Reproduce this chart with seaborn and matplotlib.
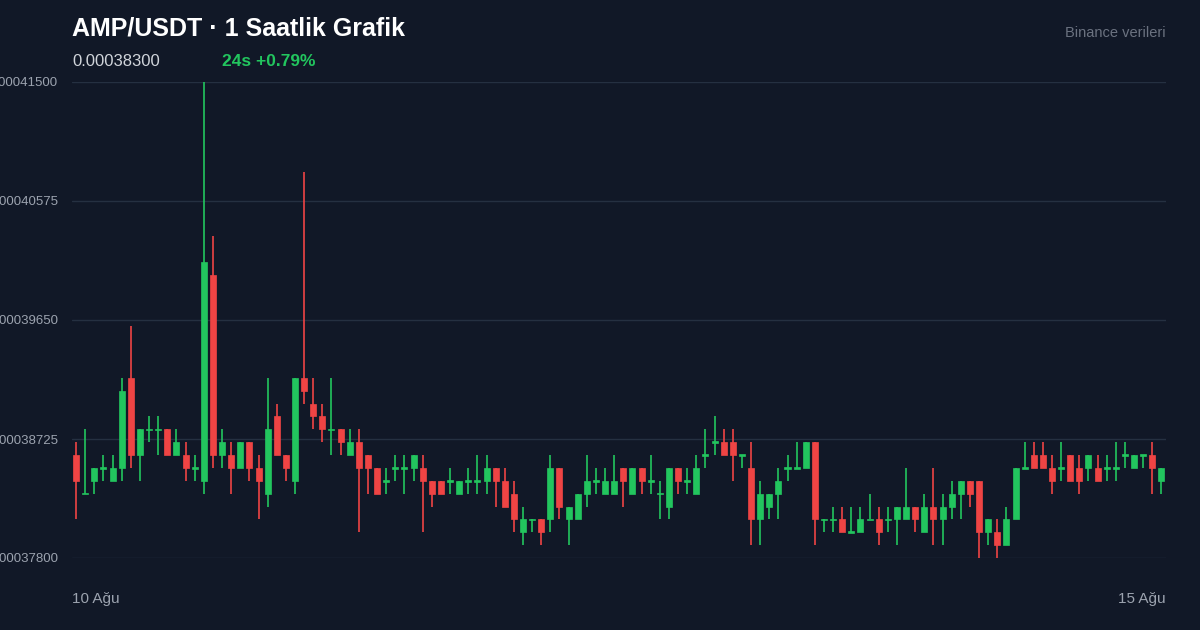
import numpy as np
import matplotlib
matplotlib.use("Agg")
import matplotlib.pyplot as plt
import seaborn as sns

# prices in units of 1e-6 USDT
opens = [386,383,384,385,384,385,392,386,388,388,388,386,386,385,384,400,386,386,385,387,385,383,389,386,384,392,390,389,388,388,
         386,387,386,385,384,385,385,385,385,384,384,384,383,384,384,384,385,384,383,380,381,381,381,385,381,381,383,384,383,383,
         385,383,385,384,383,382,385,384,383,386,387,387,387,386,385,381,382,383,385,385,385,387,381,381,381,380,380,381,381,381,
         381,381,382,380,382,381,382,383,384,384,380,380,379,381,385,386,386,385,385,386,385,385,385,385,385,386,385,386,386,384]
closes = [384,383,385,385,385,391,386,388,388,388,386,387,385,385,401,386,387,385,387,385,384,388,386,385,392,391,389,388,388,387,
          387,385,385,383,384,385,385,386,384,383,383,384,384,384,384,385,384,382,381,381,381,380,385,382,382,383,384,384,384,384,
          384,385,384,384,383,385,384,384,385,386,387,386,386,386,381,383,383,384,385,385,387,381,381,381,380,380,381,381,380,381,
          382,382,381,382,381,382,383,384,383,380,381,379,381,385,385,385,385,384,385,384,384,386,384,385,385,386,386,386,385,385]
highs = [387,388,385,386,386,392,396,388,389,389,388,388,387,386,415,403,388,387,387,387,386,392,390,386,392,408,392,390,392,388,
         388,388,386,385,385,386,386,386,386,384,384,385,384,385,386,386,385,385,384,382,381,381,386,385,382,383,386,385,385,386,
         385,385,385,386,384,385,385,385,386,388,389,388,388,386,387,384,383,385,386,387,387,387,381,382,382,382,382,383,382,382,
         382,385,382,383,385,383,384,384,384,384,381,381,382,385,387,387,387,386,387,386,386,386,386,386,387,387,386,386,387,385]
lows = [381,383,383,384,384,384,385,384,387,386,386,386,384,384,383,385,385,383,385,384,381,382,386,384,383,390,388,387,386,386,
        386,380,383,383,383,384,383,384,380,382,383,383,383,383,383,383,382,382,380,379,380,379,380,381,379,381,382,383,383,383,
        382,383,383,383,381,381,383,383,383,385,386,386,384,385,379,379,381,381,384,385,385,379,380,380,380,380,380,381,379,380,
        379,381,380,380,379,379,381,381,382,378,379,378,379,381,385,385,385,383,384,384,383,384,384,384,384,385,385,385,383,383]
start_label = "10 Ağu"
end_label = "15 Ağu"
title = "AMP/USDT · 1 Saatlik Grafik"
last_price = "0.00038300"
change = "24s +0.79%"
source = "Binance verileri"
yticks = [0.00037800, 0.00038725, 0.00039650, 0.00040575, 0.00041500]

sns.set_style("dark")
plt.rcParams['font.family'] = ['Liberation Sans', 'DejaVu Sans']
BG = "#111827"
GREEN = "#22c55e"
RED = "#ef4444"

fig = plt.figure(figsize=(12, 6.3), dpi=100, facecolor=BG)
ax = fig.add_axes([72/1200, 1-558/630, (1166-72)/1200, (558-82)/630])
ax.set_facecolor(BG)

o = np.array(opens) * 1e-6
c = np.array(closes) * 1e-6
h = np.array(highs) * 1e-6
l = np.array(lows) * 1e-6
x = np.arange(len(o))
cols = [GREEN if cc >= oo else RED for oo, cc in zip(o, c)]

ax.vlines(x, l, h, colors=cols, linewidth=1.2, zorder=2)
bot = np.minimum(o, c)
hgt = np.maximum(np.abs(c - o), 0.12e-6)
bot = np.where(np.abs(c - o) < 1e-12, o - 0.06e-6, bot)
ax.bar(x, hgt, bottom=bot, width=0.66, color=cols, edgecolor=cols, linewidth=0.5, zorder=3)

ax.set_xlim(-0.45, len(o) - 0.5)
ax.set_ylim(0.000378, 0.000415)
ax.set_yticks(yticks)
ax.set_yticklabels([f"{v:.8f}" for v in yticks], color="#9ca3af", fontsize=9.5)
ax.set_xticks([])
ax.grid(axis="y", color="#253041", linewidth=1)
ax.grid(axis="x", visible=False)
for s in ax.spines.values():
    s.set_visible(False)
ax.tick_params(axis="y", length=0, pad=10)

fig.text(72/1200, 1-29/630, title, color="white", fontsize=18, fontweight="bold", va="center")
fig.text(72/1200, 1-61/630, last_price, color="#d1d5db", fontsize=12, va="center")
fig.text(222/1200, 1-61/630, change, color=GREEN, fontsize=12.5, fontweight="bold", va="center")
fig.text(1166/1200, 1-33/630, source, color="#6b7280", fontsize=10.5, va="center", ha="right")
fig.text(72/1200, 1-599/630, start_label, color="#9ca3af", fontsize=11, va="center")
fig.text(1166/1200, 1-599/630, end_label, color="#9ca3af", fontsize=11, va="center", ha="right")

fig.savefig("out.png", dpi=100, facecolor=BG)
